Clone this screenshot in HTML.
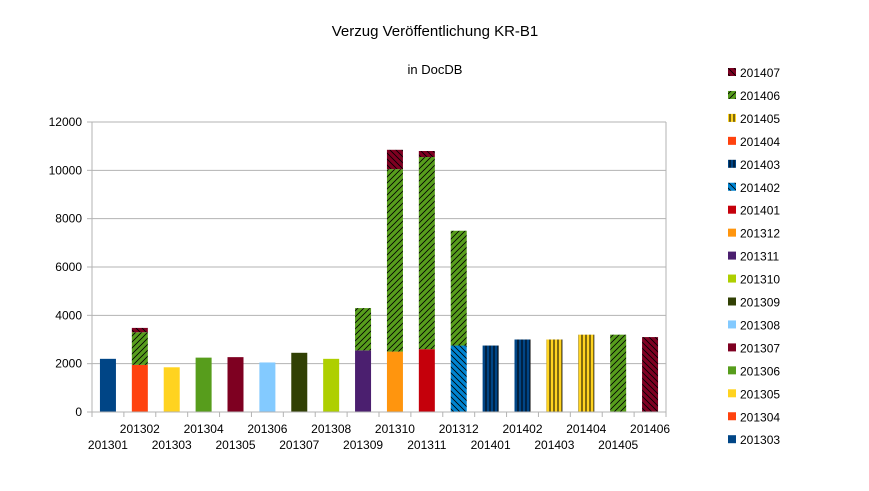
<!DOCTYPE html>
<html><head><meta charset="utf-8"><style>
body{margin:0;background:#fff}
svg{font-family:"Liberation Sans",Arial,sans-serif;display:block}
</style></head><body>
<svg id="chart" width="869" height="491" xmlns="http://www.w3.org/2000/svg">
<defs>
<pattern id="p-fdiag-green" width="6" height="6" patternUnits="userSpaceOnUse"><rect width="6" height="6" fill="#579d1c"/><path d="M0,6 L6,0 M-1,1 L1,-1 M5,7 L7,5" stroke="#000" stroke-width="0.8"/></pattern>
<pattern id="p-bdiag-maroon" width="6" height="6" patternUnits="userSpaceOnUse"><rect width="6" height="6" fill="#7e0021"/><path d="M0,0 L6,6 M-1,5 L1,7 M5,-1 L7,1" stroke="#000" stroke-width="0.8"/></pattern>
<pattern id="p-bdiag-blue" width="6" height="6" patternUnits="userSpaceOnUse"><rect width="6" height="6" fill="#0084d1"/><path d="M0,0 L6,6 M-1,5 L1,7 M5,-1 L7,1" stroke="#000" stroke-width="0.8"/></pattern>
<pattern id="p-vert-navy" width="4" height="4" patternUnits="userSpaceOnUse"><rect width="4" height="4" fill="#004586"/><path d="M2,0 L2,4" stroke="#000" stroke-width="1"/></pattern>
<pattern id="p-vert-yellow" width="4" height="4" patternUnits="userSpaceOnUse"><rect width="4" height="4" fill="#ffd320"/><path d="M2,0 L2,4" stroke="#000" stroke-width="1"/></pattern>
</defs>
<text x="435" y="36" font-size="15" text-anchor="middle">Verzug Veröffentlichung KR-B1</text>
<text x="435" y="74" font-size="13" text-anchor="middle">in DocDB</text>
<g id="grid"></g><g id="bars"></g><g id="axes"></g><g id="legend"></g>
</svg>
<script>
const categories=["201301","201302","201303","201304","201305","201306","201307","201308","201309","201310","201311","201312","201401","201402","201403","201404","201405","201406"];
const baseValues=[2200,1950,1850,2250,2270,2050,2450,2200,2550,2500,2600,2750,2750,3000,3000,3200,3200,3100];
const greenValues=[0,1350,0,0,0,0,0,0,1750,7550,7950,4750,0,0,0,0,0,0];
const maroonValues=[0,180,0,0,0,0,0,0,0,800,250,0,0,0,0,0,0,0];
const baseFills=["#004586","#ff420e","#ffd320","#579d1c","#7e0021","#83caff","#314004","#aecf00","#4b1f6f","#ff950e","#c5000b","url(#p-bdiag-blue)","url(#p-vert-navy)","url(#p-vert-navy)","url(#p-vert-yellow)","url(#p-vert-yellow)","url(#p-fdiag-green)","url(#p-bdiag-maroon)"];
const yTicks=[0,2000,4000,6000,8000,10000,12000];
const legendLabels=["201407","201406","201405","201404","201403","201402","201401","201312","201311","201310","201309","201308","201307","201306","201305","201304","201303"];
const legendFills=["url(#p-bdiag-maroon)","url(#p-fdiag-green)","url(#p-vert-yellow)","#ff420e","url(#p-vert-navy)","url(#p-bdiag-blue)","#c5000b","#ff950e","#4b1f6f","#aecf00","#314004","#83caff","#7e0021","#579d1c","#ffd320","#ff420e","#004586"];
const NS="http://www.w3.org/2000/svg";
const X0=92,X1=666,Y0=412,Y1=122,YMAX=12000;
const bw=(X1-X0)/categories.length;
const y=v=>Y0-(v/YMAX)*(Y0-Y1);
const xc=i=>X0+bw*(i+0.5);
function mk(tag,attrs,parent){const e=document.createElementNS(NS,tag);for(const k in attrs)e.setAttribute(k,attrs[k]);parent.appendChild(e);return e;}
const grid=document.getElementById('grid'),bars=document.getElementById('bars'),axes=document.getElementById('axes'),legend=document.getElementById('legend');
yTicks.forEach(t=>{
  const l=mk('line',{x1:X0,x2:X1,y1:y(t),y2:y(t),stroke:'#b3b3b3','stroke-width':1},grid);
  
  
  mk('line',{x1:X0-5,x2:X0,y1:y(t),y2:y(t),stroke:'#b3b3b3'},axes);
  const tx=mk('text',{x:X0-10,y:y(t)+4,'font-size':12,'text-anchor':'end'},axes);
  tx.textContent=t;
  
  
});
mk('line',{x1:X0,x2:X0,y1:Y1,y2:Y0,stroke:'#b3b3b3'},axes);
mk('line',{x1:X0,x2:X1,y1:Y0,y2:Y0,stroke:'#b3b3b3'},axes);
mk('line',{x1:X1,x2:X1,y1:Y1,y2:Y0,stroke:'#b3b3b3'},grid);
categories.forEach((c,i)=>{
  const w=16,x=xc(i)-w/2;
  let acc=0;
  [[baseValues[i],baseFills[i],'base'],[greenValues[i],'url(#p-fdiag-green)','green'],[maroonValues[i],'url(#p-bdiag-maroon)','maroon']].forEach(([v,f,n])=>{
    if(v<=0)return;
    const r=mk('rect',{x:x,y:y(acc+v),width:w,height:y(acc)-y(acc+v),fill:f},bars);
    
    
    acc+=v;
  });
  mk('line',{x1:X0+bw*(i+1),x2:X0+bw*(i+1),y1:Y0,y2:Y0+5,stroke:'#b3b3b3'},axes);
  const tx=mk('text',{x:xc(i),y:i%2?433:449,'font-size':12,'text-anchor':'middle'},axes);
  tx.textContent=c;
  
  
});
mk('line',{x1:X0,x2:X0,y1:Y0,y2:Y0+5,stroke:'#b3b3b3'},axes);
legendLabels.forEach((lab,i)=>{
  const yy=72+i*22.95;
  const g=mk('g',{},legend);
  
  
  mk('rect',{x:728,y:yy-4,width:8,height:8,fill:legendFills[i]},g);
  const t=mk('text',{x:740,y:yy+5,'font-size':12},g);
  t.textContent=lab;
});
</script>
</body></html>
